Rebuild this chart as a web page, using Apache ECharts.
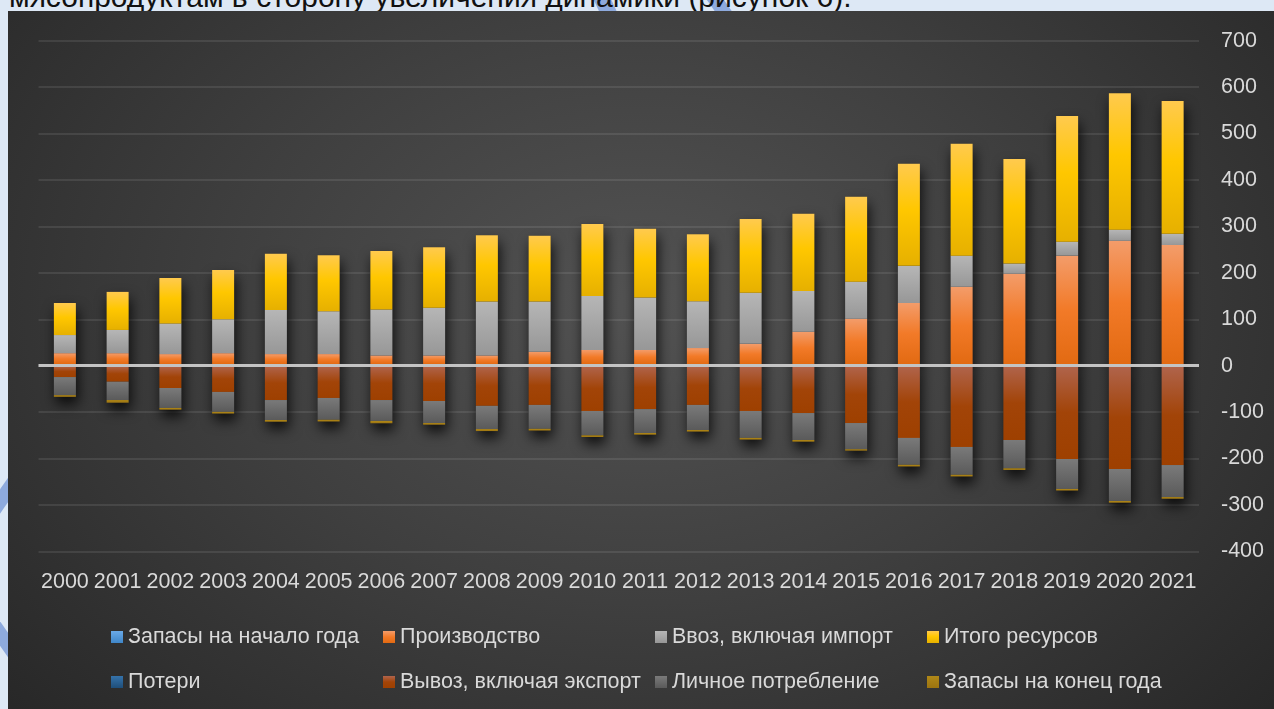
<!DOCTYPE html>
<html>
<head>
<meta charset="utf-8">
<script src="https://cdn.jsdelivr.net/npm/echarts@6/dist/echarts.min.js"></script>
<style>
html,body{margin:0;padding:0;width:1274px;height:709px;overflow:hidden;background:#dde8f5;}
#top{position:absolute;left:9px;top:-18px;font:30px/30px "Liberation Sans",Arial,sans-serif;color:#111;white-space:nowrap;z-index:2;}
.deco{position:absolute;background:#8eaadd;z-index:1;}
#chart{position:absolute;left:8px;top:11px;width:1266px;height:698px;z-index:3;
background:radial-gradient(ellipse 72% 95% at 50% 42%, #535353 0%, #3f3f3f 45%, #242424 100%);}
</style>
</head>
<body>
<div class="deco" style="left:596px;top:-12px;width:16px;height:30px;transform:rotate(-25deg);"></div>
<div class="deco" style="left:712px;top:-12px;width:14px;height:34px;transform:rotate(-35deg);"></div>
<div class="deco" style="left:-6px;top:470px;width:14px;height:60px;transform:rotate(35deg);"></div>
<div class="deco" style="left:-6px;top:600px;width:14px;height:70px;transform:rotate(-35deg);"></div>
<div id="top">мясопродуктам в сторону увеличения динамики (рисунок 6).</div>
<div id="chart"></div>
<script>
const years = ['2000','2001','2002','2003','2004','2005','2006','2007','2008','2009','2010','2011','2012','2013','2014','2015','2016','2017','2018','2019','2020','2021'];
const stockStart = [3,3,3,3,3,3,3,3,3,3,3,3,3,3,3,3,3,3,3,3,3,3];
const production = [24,24,22,24,22,22,19,19,19,27,31,31,35,44,70,98,132,167,195,234,266,257];
const imports = [39,50,66,73,95,92,99,103,116,108,116,113,101,110,88,80,80,67,22,30,24,24];
const totalRes = [69,82,98,106,121,121,126,130,143,142,155,148,144,159,166,183,220,241,225,271,294,286];
const losses = [-0.5,-0.5,-0.5,-0.5,-0.5,-0.5,-0.5,-0.5,-0.5,-0.5,-0.5,-0.5,-0.5,-0.5,-0.5,-0.5,-0.5,-0.5,-0.5,-0.5,-0.5,-0.5];
const exportsOut = [-24,-34,-47.5,-56,-73.5,-69,-73.5,-75.5,-86,-84,-97,-93,-84,-97,-101.5,-123,-155,-174.5,-159.5,-200.5,-222,-213.5];
const consumption = [-39,-39.5,-43,-43,-43,-47,-45,-47.5,-50,-51.5,-52.5,-51.5,-54,-58,-58,-56.5,-58,-60,-61,-64.5,-69,-69];
const stockEnd = [-3.6,-5.7,-3.7,-3.6,-3.7,-3.7,-5,-3.6,-4.3,-3.7,-3.6,-3.6,-3.5,-3.7,-3.7,-3,-3.6,-3.6,-3.6,-3.4,-3.6,-3.6];
const yTicks = [-400,700,100];

const names = ['Запасы на начало года','Производство','Ввоз, включая импорт','Итого ресурсов','Потери','Вывоз, включая экспорт','Личное потребление','Запасы на конец года'];
const values = [stockStart, production, imports, totalRes, losses, exportsOut, consumption, stockEnd];

function grad(stops){
  return {type:'linear',x:0,y:0,x2:0,y2:1,colorStops:stops.map(c=>({offset:c[0],color:c[1]}))};
}
const colors = [
  grad([[0,'#6aaae8'],[1,'#3f86c8']]),
  grad([[0,'#f39c6a'],[0.5,'#f27a28'],[1,'#e26a12']]),
  grad([[0,'#b6b6b6'],[1,'#979797']]),
  grad([[0,'#ffca4e'],[0.45,'#ffc700'],[1,'#e6b000']]),
  grad([[0,'#3573ab'],[1,'#1f4e79']]),
  grad([[0,'#b0644c'],[0.5,'#a24408'],[1,'#9e4000']]),
  grad([[0,'#7a7a7a'],[1,'#5a5a5a']]),
  grad([[0,'#b08818'],[1,'#9c7410']])
];

const posSum = years.map((_,i)=>stockStart[i]+production[i]+imports[i]+totalRes[i]);
const negSum = years.map((_,i)=>losses[i]+exportsOut[i]+consumption[i]+stockEnd[i]);

const FONT = '"Liberation Sans", Arial, sans-serif';
const series = [];
[posSum, negSum].forEach((d,k)=>{
  series.push({
    name:'shadow'+k, type:'bar', stack:'sh', data:d, barWidth:22, barGap:'-100%', z:1, silent:true,
    itemStyle:{color:'#2c2c2c', shadowColor:'rgba(0,0,0,0.8)', shadowBlur:13, shadowOffsetX:2, shadowOffsetY:7}
  });
});
names.forEach((n,i)=>{
  const s = {name:n, type:'bar', stack:'a', data:values[i], barWidth:22, barGap:'-100%', z:2,
    itemStyle:{color:colors[i]}};
  if(i===names.length-1){
    s.markLine = {silent:true, symbol:['none','none'], label:{show:false},
      lineStyle:{color:'#c4c4c4', width:3, type:'solid'}, emphasis:{disabled:true},
      data:[{yAxis:0}]};
  }
  series.push(s);
});

const legendCommon = {
  left:98, itemWidth:12, itemHeight:12, itemGap:0, icon:'rect', orient:'horizontal',
  textStyle:{color:'#d9d9d9', fontSize:21.5, fontFamily:FONT, width:255, lineHeight:24, overflow:'none'},
  selectedMode:false
};
const chart = echarts.init(document.getElementById('chart'), null, {renderer:'canvas'});
chart.setOption({
  animation:false,
  backgroundColor:'transparent',
  textStyle:{fontFamily:FONT},
  grid:{left:30.5, right:75, top:29.7, bottom:157.6},
  legend:[
    Object.assign({}, legendCommon, {top:609, data:names.slice(0,4)}),
    Object.assign({}, legendCommon, {top:654, data:names.slice(4)})
  ],
  xAxis:{type:'category', data:years, axisLine:{show:false}, axisTick:{show:false},
    axisLabel:{color:'#d9d9d9', fontSize:21.5, fontFamily:FONT, margin:20, interval:0}},
  yAxis:{type:'value', position:'right', min:yTicks[0], max:yTicks[1], interval:yTicks[2],
    axisLine:{show:false}, axisTick:{show:false},
    axisLabel:{color:'#d9d9d9', fontSize:21.5, fontFamily:FONT, margin:22},
    splitLine:{lineStyle:{color:'rgba(255,255,255,0.09)', width:2}}},
  series:series
});
</script>
</body>
</html>
